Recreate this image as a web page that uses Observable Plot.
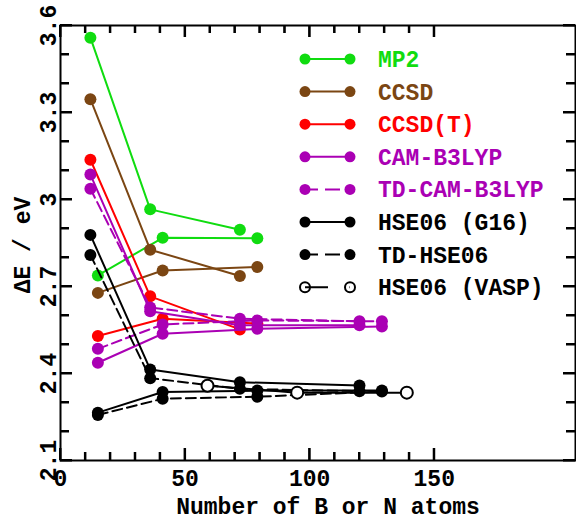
<!DOCTYPE html>
<html><head><meta charset="utf-8">
<script src="https://cdn.jsdelivr.net/npm/d3@7"></script>
<script src="https://cdn.jsdelivr.net/npm/@observablehq/plot@0.6"></script>
<style>
html,body{margin:0;padding:0;background:#fff;}
</style></head><body><div id="chart"></div>
<script>
// x positions (number of B or N atoms) of the two flake families
const xA = [12, 36, 72, 120];
const xB = [15, 41, 79, 129];
const xVasp = [59, 95, 139];

// ΔE / eV values
const mp2A   = [3.558, 2.966, 2.896];
const mp2B   = [2.738, 2.868, 2.866];
const ccsdA  = [3.346, 2.827, 2.736];
const ccsdB  = [2.678, 2.755, 2.767];
const ccsdtA = [3.137, 2.666, 2.552];
const ccsdtB = [2.529, 2.589, 2.572];
const camA   = [3.086, 2.615, 2.566, 2.566];
const camB   = [2.437, 2.537, 2.554, 2.562];
const tdcamA = [3.037, 2.628, 2.589, 2.580];
const tdcamB = [2.485, 2.569, 2.583, 2.580];
const hseA   = [2.878, 2.414, 2.370, 2.359];
const hseB   = [2.265, 2.336, 2.341, 2.341];
const tdhseA = [2.809, 2.384, 2.347, 2.339];
const tdhseB = [2.257, 2.313, 2.320, 2.338];
const vasp   = [2.358, 2.334, 2.334];

const names  = ["MP2", "CCSD", "CCSD(T)", "CAM-B3LYP", "TD-CAM-B3LYP", "HSE06 (G16)", "TD-HSE06", "HSE06 (VASP)"];
const colors = ["#10dc10", "#7b4613", "#ff0000", "#aa00b4", "#aa00b4", "#000000", "#000000", "#000000"];
const dashed = [false, false, false, false, true, false, true, false];

const xMajor = [0, 50, 100, 150];
const xMinor = d3.range(0, 151, 10).filter(d => d % 50 !== 0);
const yMajor = [2.1, 2.4, 2.7, 3.0, 3.3, 3.6];
const yMinor = d3.range(21, 37).filter(t => (t - 21) % 3 !== 0).map(t => t / 10);

const famData = [
  [mp2A, mp2B], [ccsdA, ccsdB], [ccsdtA, ccsdtB], [camA, camB],
  [tdcamA, tdcamB], [hseA, hseB], [tdhseA, tdhseB]
];

const FONT = "Liberation Mono, Courier New, monospace";
const FS = 23;
const W = 576, H = 521, ML = 60, MR = 1, MT = 25, MB = 61;
const FW = W - ML - MR, FH = H - MT - MB;
const xDom = [0, 206.7], yDom = [2.1, 3.6];

const marks = [];
famData.forEach(([A, B], i) => {
  const rows = [
    ...A.map((y, k) => ({fam: "A", x: xA[k], y})),
    ...B.map((y, k) => ({fam: "B", x: xB[k], y}))
  ];
  marks.push(Plot.line(rows, {x: "x", y: "y", z: "fam", stroke: colors[i], strokeWidth: 2,
    strokeDasharray: dashed[i] ? "10,5" : null}));
  marks.push(Plot.dot(rows, {x: "x", y: "y", r: 6, fill: colors[i], stroke: null}));
});
const vRows = vasp.map((y, k) => ({x: xVasp[k], y}));
marks.push(Plot.line(vRows, {x: "x", y: "y", stroke: "black", strokeWidth: 2}));
marks.push(Plot.dot(vRows, {x: "x", y: "y", r: 6, fill: "white", stroke: "black", strokeWidth: 2}));

const tk = {stroke: "black", strokeWidth: 2};
const axes = [
  // inward ticks via tick marks with insets
  Plot.tickX(xMajor, {x: d => d, insetTop: FH - 12, ...tk}),
  Plot.tickX(xMinor, {x: d => d, insetTop: FH - 8, ...tk}),
  Plot.tickX(xMajor, {x: d => d, insetBottom: FH - 12, ...tk}),
  Plot.tickX(xMinor, {x: d => d, insetBottom: FH - 8, ...tk}),
  Plot.tickY(yMajor, {y: d => d, insetRight: FW - 12, ...tk}),
  Plot.tickY(yMinor, {y: d => d, insetRight: FW - 9, ...tk}),
  Plot.tickY(yMajor, {y: d => d, insetLeft: FW - 12, ...tk}),
  Plot.tickY(yMinor, {y: d => d, insetLeft: FW - 9, ...tk}),
  Plot.text(xMajor, {x: d => d, text: d => String(d), frameAnchor: "bottom", dy: 25,
    lineAnchor: "bottom", fontSize: FS, fontWeight: "bold", fontFamily: FONT}),
  Plot.text(yMajor, {y: d => d, text: d => (d === 3 ? "3" : d.toFixed(1)), frameAnchor: "left", dx: -5,
    rotate: -90, textAnchor: "middle", lineAnchor: "bottom", fontSize: FS, fontWeight: "bold", fontFamily: FONT}),
  Plot.text(["Number of B or N atoms"], {frameAnchor: "bottom", dx: 10, dy: 53, lineAnchor: "bottom",
    textAnchor: "middle", fontSize: FS, fontWeight: "bold", fontFamily: FONT}),
  Plot.text(["ΔE / eV"], {frameAnchor: "left", dx: -31, dy: 2, rotate: -90, lineAnchor: "bottom",
    textAnchor: "middle", fontSize: FS, fontWeight: "bold", fontFamily: FONT}),
  Plot.frame({strokeWidth: 2})
];

const chart = Plot.plot({
  width: W, height: H,
  marginLeft: ML, marginRight: MR, marginTop: MT, marginBottom: MB,
  x: {domain: xDom, axis: null},
  y: {domain: yDom, axis: null},
  style: {fontFamily: FONT, background: "white", color: "black"},
  marks: [...marks, ...axes]
});

const svg = d3.select(chart);

// Fallback: same inward ticks drawn from the plot's own scales
try {
  const sx = chart.scale("x"), sy = chart.scale("y");
  const X = v => sx.apply(v), Y = v => sy.apply(v);
  const x0 = ML, x1 = W - MR, y0 = MT, y1 = H - MB;
  const tg = svg.append("g").attr("stroke", "#000").attr("stroke-width", 2).attr("fill", "none");
  const tick = (xa, ya, xb, yb) => tg.append("path").attr("d", `M${xa},${ya}L${xb},${yb}`);
  xMajor.forEach(v => { tick(X(v), y1, X(v), y1 - 12); tick(X(v), y0, X(v), y0 + 12); });
  xMinor.forEach(v => { tick(X(v), y1, X(v), y1 - 8); tick(X(v), y0, X(v), y0 + 8); });
  yMajor.forEach(v => { tick(x0, Y(v), x0 + 12, Y(v)); tick(x1, Y(v), x1 - 12, Y(v)); });
  yMinor.forEach(v => { tick(x0, Y(v), x0 + 9, Y(v)); tick(x1, Y(v), x1 - 9, Y(v)); });
} catch (e) {}

// Legend drawn inside the same SVG
const lg = svg.append("g").attr("text-anchor", "start");
const lx1 = 305, lx2 = 350, ltx = 378, ly0 = 59, lstep = 32.6;
names.forEach((name, i) => {
  const y = ly0 + i * lstep;
  const g = lg.append("g");
  if (i === 7) {
    g.append("line").attr("x1", lx1).attr("x2", lx2).attr("y1", y).attr("y2", y)
      .attr("stroke", "black").attr("stroke-width", 2).attr("stroke-dasharray", "23,21.5,1,10");
    [lx1, lx2].forEach(cx => g.append("circle").attr("cx", cx).attr("cy", y).attr("r", 5)
      .attr("fill", "none").attr("stroke", "black").attr("stroke-width", 2));
  } else {
    g.append("line").attr("x1", lx1).attr("x2", lx2).attr("y1", y).attr("y2", y)
      .attr("stroke", colors[i]).attr("stroke-width", 2)
      .attr("stroke-dasharray", dashed[i] ? "13,7,15,10" : null);
    [lx1, lx2].forEach(cx => g.append("circle").attr("cx", cx).attr("cy", y).attr("r", 5.5)
      .attr("fill", colors[i]));
  }
  g.append("text").attr("x", ltx).attr("y", y + 8).attr("fill", colors[i])
    .attr("text-anchor", "start")
    .attr("font-family", FONT).attr("font-weight", "bold").attr("font-size", FS).text(name);
});

document.getElementById("chart").appendChild(chart);
</script></body></html>
